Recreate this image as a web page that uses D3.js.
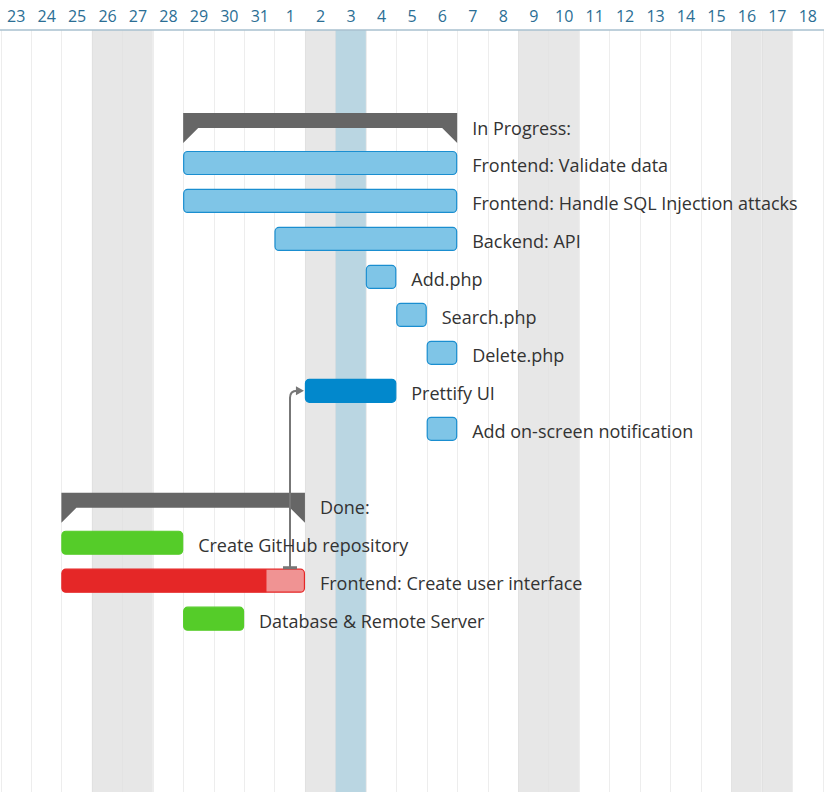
<!DOCTYPE html>
<html>
<head>
<meta charset="utf-8">
<script src="https://cdn.jsdelivr.net/npm/d3@7"></script>
<style>
  html, body { margin: 0; padding: 0; background: #fff; }
  svg { display: block; }
  text { font-family: "Open Sans", "Noto Sans", sans-serif; }
</style>
</head>
<body>
<svg id="chart" width="824" height="792"></svg>
<script>
// ---------- data ----------
const axisStart = "2019-10-23";
const axisEnd = "2019-11-19";
const today = "2019-11-03";

const rowLabels = [
  "In Progress:",
  "Frontend: Validate data",
  "Frontend: Handle SQL Injection attacks",
  "Backend: API",
  "Add.php",
  "Search.php",
  "Delete.php",
  "Prettify UI",
  "Add on-screen notification",
  "",
  "Done:",
  "Create GitHub repository",
  "Frontend: Create user interface",
  "Database & Remote Server"
];
const rowKinds = ["group","task","task","task","task","task","task","task","task","blank","group","task","task","task"];
const rowStatus = ["group","progress","progress","progress","progress","progress","progress","active","progress","","group","done","late","done"];
const startDates = ["2019-10-29","2019-10-29","2019-10-29","2019-11-01","2019-11-04","2019-11-05","2019-11-06","2019-11-02","2019-11-06",null,"2019-10-25","2019-10-25","2019-10-25","2019-10-29"];
const endDates   = ["2019-11-07","2019-11-07","2019-11-07","2019-11-07","2019-11-05","2019-11-06","2019-11-07","2019-11-05","2019-11-07",null,"2019-11-02","2019-10-29","2019-11-02","2019-10-31"];
const completion = [null,null,null,null,null,null,null,null,null,null,null,null,0.84,null];
const dependencies = [{ from: "Frontend: Create user interface", to: "Prettify UI" }];

// ---------- styles ----------
const styles = {
  progress: { fill: "#7fc5e7", stroke: "#1a8ed0" },
  active:   { fill: "#0288cc", stroke: "#0288cc" },
  done:     { fill: "#55cc29", stroke: "#55cc29" },
  late:     { fill: "#f09393", stroke: "#e52727", partial: "#e52727" }
};

const W = 824, H = 792;
const axisY = 30;
const parse = d3.utcParse("%Y-%m-%d");
const svg = d3.select("#chart");

const x = d3.scaleUtc().domain([parse(axisStart), parse(axisEnd)]).range([0.5, 822.5]);
const y = d3.scaleLinear().domain([0, 13]).range([125, 618.7]);
const barH = 24;

const days = d3.utcDay.range(parse(axisStart), parse(axisEnd));
const colW = x(days[1]) - x(days[0]);

// weekend bands
svg.append("g").selectAll("rect")
  .data(days.filter(d => d.getUTCDay() === 0 || d.getUTCDay() === 6))
  .join("rect")
  .attr("x", d => x(d)).attr("y", axisY)
  .attr("width", colW).attr("height", H - axisY)
  .attr("fill", "#e7e7e7");

// today band
svg.append("rect")
  .attr("x", x(parse(today))).attr("y", axisY)
  .attr("width", colW).attr("height", H - axisY)
  .attr("fill", "#bad6e2");

// grid lines
svg.append("g").selectAll("line")
  .data(days.concat([parse(axisEnd)]))
  .join("line")
  .attr("x1", d => Math.round(x(d)) + 0.5).attr("x2", d => Math.round(x(d)) + 0.5)
  .attr("y1", axisY).attr("y2", H)
  .attr("stroke", "#dcdcdc").attr("stroke-opacity", 0.5).attr("stroke-width", 1);

// top axis
const axis = d3.axisTop(x)
  .tickValues(days.map(d => d3.utcHour.offset(d, 12)))
  .tickFormat(d3.utcFormat("%-d"))
  .tickSize(0).tickPadding(8);
const gAxis = svg.append("g").attr("transform", `translate(0,${axisY})`).call(axis);
gAxis.select(".domain").attr("stroke", "#a9c1cf").attr("stroke-width", 1.5)
  .attr("d", `M0,0H${W}`);
gAxis.selectAll("text").attr("fill", "#2b6e94").attr("font-size", 16)
  .style("font-family", '"Open Sans", sans-serif');

// rows
const rows = rowLabels.map((name, i) => ({
  name, i, kind: rowKinds[i], status: rowStatus[i],
  start: startDates[i] ? parse(startDates[i]) : null,
  end: endDates[i] ? parse(endDates[i]) : null,
  completed: completion[i]
})).filter(r => r.kind !== "blank");

// groups
svg.append("g").selectAll("path")
  .data(rows.filter(r => r.kind === "group"))
  .join("path")
  .attr("d", r => {
    const x0 = x(r.start), x1 = x(r.end), t = y(r.i) - barH / 2;
    return `M${x0},${t}H${x1}V${t + 30}L${x1 - 15},${t + 15}H${x0 + 15}L${x0},${t + 30}Z`;
  })
  .attr("fill", "#666666");

// tasks
const tasks = rows.filter(r => r.kind === "task");
const gTasks = svg.append("g");
gTasks.selectAll("rect.bar")
  .data(tasks)
  .join("rect").attr("class", "bar")
  .attr("x", r => x(r.start) + 0.5).attr("y", r => y(r.i) - barH / 2 + 0.5)
  .attr("width", r => x(r.end) - x(r.start) - 1).attr("height", barH - 1)
  .attr("rx", 4)
  .attr("fill", r => styles[r.status].fill)
  .attr("stroke", r => styles[r.status].stroke).attr("stroke-width", 1.2);

gTasks.selectAll("path.partial")
  .data(tasks.filter(r => r.completed != null))
  .join("path").attr("class", "partial")
  .attr("d", r => {
    const x0 = x(r.start) + 0.5, t = y(r.i) - barH / 2 + 0.5, h = barH - 1;
    const w = (x(r.end) - x(r.start)) * r.completed;
    const rr = 4;
    return `M${x0 + rr},${t}H${x0 + w}V${t + h}H${x0 + rr}Q${x0},${t + h} ${x0},${t + h - rr}V${t + rr}Q${x0},${t} ${x0 + rr},${t}Z`;
  })
  .attr("fill", r => styles[r.status].partial);

// dependencies
const byName = new Map(rows.map(r => [r.name, r]));
const gDep = svg.append("g").attr("fill", "none").attr("stroke", "#777").attr("stroke-width", 2);
dependencies.forEach(dep => {
  const a = byName.get(dep.from), b = byName.get(dep.to);
  const sx = Math.round(x(a.end) - 15), sy = y(a.i) - barH / 2 - 1;
  const ex = x(b.start) - 1, ey = y(b.i);
  const r = 7;
  gDep.append("path")
    .attr("d", `M${sx},${sy}V${ey + r}Q${sx},${ey} ${sx + r},${ey}H${ex - 6}`);
  gDep.append("line")
    .attr("x1", sx - 7).attr("x2", sx + 7).attr("y1", sy).attr("y2", sy)
    .attr("stroke-width", 3);
  gDep.append("path")
    .attr("d", `M${ex - 8},${ey - 4.5}L${ex},${ey}L${ex - 8},${ey + 4.5}Z`)
    .attr("fill", "#777").attr("stroke", "none");
});

// labels
svg.append("g").selectAll("text")
  .data(rows)
  .join("text")
  .attr("x", r => x(r.end) + 15)
  .attr("y", r => y(r.i) + 9.5)
  .attr("fill", "#333")
  .attr("font-size", 18)
  .text(r => r.name);
</script>
</body>
</html>
